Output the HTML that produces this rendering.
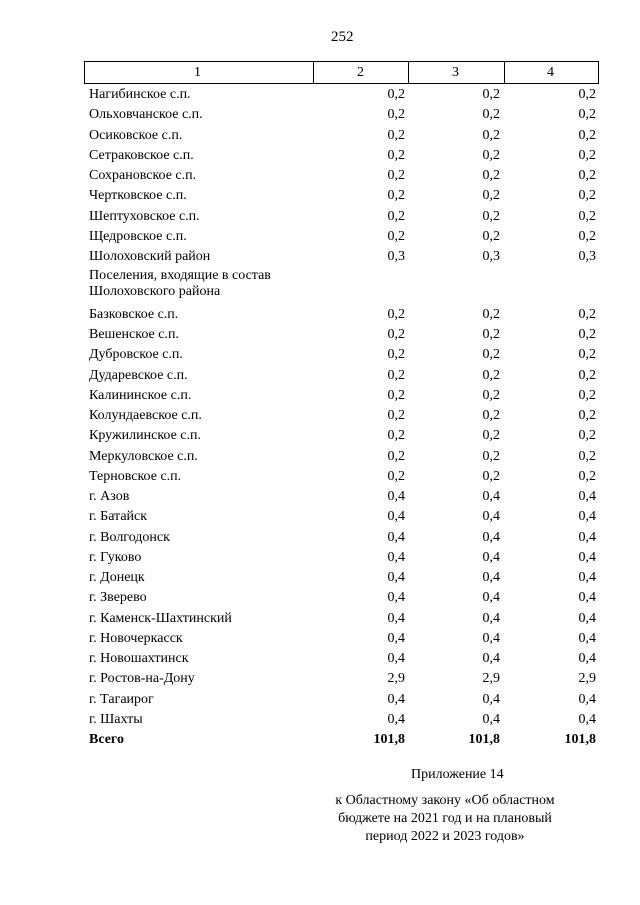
<!DOCTYPE html>
<html><head><meta charset="utf-8"><style>
body{margin:0;background:#fff;width:640px;height:905px;position:relative;font-family:"Liberation Serif",serif;font-size:14px;color:#000;overflow:hidden}
.t{position:absolute;white-space:nowrap;line-height:16px}
.r{position:absolute;white-space:nowrap;line-height:16px;text-align:right}
.b{font-weight:bold}
.ln{position:absolute;background:#000}
</style></head><body>
<div class="t" style="left:331px;top:29px;font-size:15px">252</div>
<div class="ln" style="left:84px;top:61px;width:515px;height:1px"></div>
<div class="ln" style="left:84px;top:83px;width:515px;height:1px"></div>
<div class="ln" style="left:84px;top:61px;width:1px;height:23px"></div>
<div class="ln" style="left:313px;top:61px;width:1px;height:23px"></div>
<div class="ln" style="left:408px;top:61px;width:1px;height:23px"></div>
<div class="ln" style="left:504px;top:61px;width:1px;height:23px"></div>
<div class="ln" style="left:598px;top:61px;width:1px;height:23px"></div>
<div class="t" style="left:194px;top:65px">1</div>
<div class="t" style="left:357px;top:65px">2</div>
<div class="t" style="left:452px;top:65px">3</div>
<div class="t" style="left:547px;top:65px">4</div>
<div id="rows"></div>
<div class="t" style="left:411px;top:767px">Приложение 14</div>
<div class="t" style="left:300px;top:792px;width:290px;text-align:center;line-height:18px">к Областному закону «Об областном<br>бюджете на 2021 год и на плановый<br>период 2022 и 2023 годов»</div>
<script>
var d=[["Нагибинское с.п.","0,2"],["Ольховчанское с.п.","0,2"],["Осиковское с.п.","0,2"],["Сетраковское с.п.","0,2"],["Сохрановское с.п.","0,2"],["Чертковское с.п.","0,2"],["Шептуховское с.п.","0,2"],["Щедровское с.п.","0,2"],["Шолоховский район","0,3"],["P"],["Базковское с.п.","0,2"],["Вешенское с.п.","0,2"],["Дубровское с.п.","0,2"],["Дударевское с.п.","0,2"],["Калининское с.п.","0,2"],["Колундаевское с.п.","0,2"],["Кружилинское с.п.","0,2"],["Меркуловское с.п.","0,2"],["Терновское с.п.","0,2"],["г. Азов","0,4"],["г. Батайск","0,4"],["г. Волгодонск","0,4"],["г. Гуково","0,4"],["г. Донецк","0,4"],["г. Зверево","0,4"],["г. Каменск-Шахтинский","0,4"],["г. Новочеркасск","0,4"],["г. Новошахтинск","0,4"],["г. Ростов-на-Дону","2,9"],["г. Тагаирог","0,4"],["г. Шахты","0,4"],["Всего","101,8"]];
var h="",y=87;
d.forEach(function(r,i){
 if(r[0]=="P"){h+='<div class="t" style="left:89px;top:'+(y-1)+'px">Поселения, входящие в состав<br>Шолоховского района</div>';y+=37.5;return;}
 var b=r[0]=="Всего"?" b":"";
 h+='<div class="t'+b+'" style="left:89px;top:'+y+'px">'+r[0]+'</div>';
 [[313,405],[408,500],[504,596]].forEach(function(c){h+='<div class="r'+b+'" style="left:'+c[0]+'px;width:'+(c[1]-c[0])+'px;top:'+y+'px">'+r[1]+'</div>';});
 y+=20.25;
});
document.getElementById("rows").innerHTML=h;
</script>
</body></html>
